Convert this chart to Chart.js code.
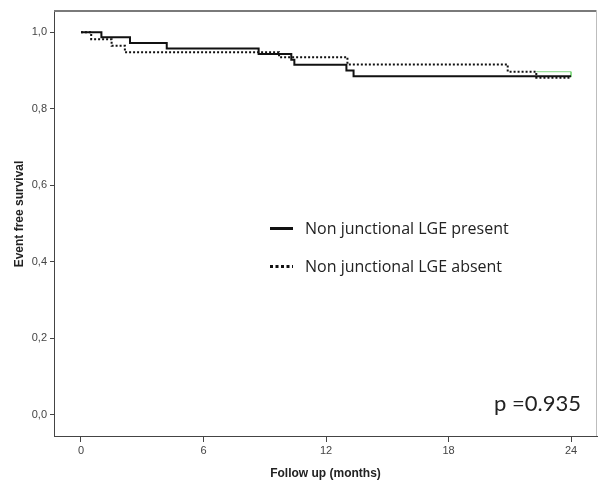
<!DOCTYPE html>
<html>
<head>
<meta charset="utf-8">
<script src="https://cdn.jsdelivr.net/npm/chart.js"></script>
<style>
  html, body { margin: 0; padding: 0; background: #fff; }
  #wrap { width: 598px; height: 484px; position: relative; }
</style>
</head>
<body>
<div id="wrap"><canvas id="km"></canvas></div>
<script>
  // Kaplan-Meier steps (months, survival)
  const presentTimes = [0, 1.0, 2.4, 4.2, 8.7, 10.3, 10.45, 13.0, 13.35, 24];
  const presentSurv = [1.0, 0.987, 0.972, 0.958, 0.943, 0.928, 0.915, 0.9, 0.885, 0.885];
  const absentTimes = [0, 0.5, 1.5, 2.15, 9.7, 13.05, 20.9, 22.3, 24];
  const absentSurv = [1.0, 0.982, 0.965, 0.948, 0.935, 0.916, 0.897, 0.881, 0.881];
  const markTimes = [22.3, 24, 24];
  const markSurv = [0.897, 0.897, 0.883];

  const xTicks = [0, 6, 12, 18, 24];
  const yTicks = [0, 0.2, 0.4, 0.6, 0.8, 1.0];
  const legendLabels = ['Non junctional LGE present', 'Non junctional LGE absent'];
  const pLabel = 'p =0.935';

  function toPoints(xs, ys) {
    return xs.map((x, i) => ({ x, y: ys[i] }));
  }

  const overlay = {
    id: 'overlay',
    afterDraw(chart) {
      const { ctx, chartArea } = chart;
      ctx.save();
      // top and right frame
      ctx.strokeStyle = '#7a7a7a';
      ctx.lineWidth = 2;
      ctx.beginPath();
      ctx.moveTo(chartArea.left, chartArea.top + 1);
      ctx.lineTo(chartArea.right, chartArea.top + 1);
      ctx.stroke();
      ctx.strokeStyle = '#bdbdbd';
      ctx.lineWidth = 1;
      ctx.beginPath();
      ctx.moveTo(chartArea.right - 0.5, chartArea.top);
      ctx.lineTo(chartArea.right - 0.5, chartArea.bottom);
      ctx.stroke();

      // axis titles
      ctx.fillStyle = '#222';
      ctx.font = 'bold 12px "Liberation Sans", Arial, sans-serif';
      ctx.textAlign = 'center';
      ctx.textBaseline = 'middle';
      ctx.fillText('Follow up (months)', (chartArea.left + chartArea.right) / 2, 474);
      ctx.save();
      ctx.translate(20, 214);
      ctx.rotate(-Math.PI / 2);
      ctx.fillText('Event free survival', 0, 0);
      ctx.restore();

      // legend
      ctx.strokeStyle = '#111';
      ctx.lineWidth = 3;
      ctx.beginPath();
      ctx.moveTo(270, 228.5);
      ctx.lineTo(293, 228.5);
      ctx.stroke();
      ctx.setLineDash([3, 2.5]);
      ctx.beginPath();
      ctx.moveTo(270, 266.5);
      ctx.lineTo(293, 266.5);
      ctx.stroke();
      ctx.setLineDash([]);
      ctx.fillStyle = '#222';
      ctx.font = '16px "Open Sans", Lato, sans-serif';
      ctx.textAlign = 'left';
      ctx.textBaseline = 'alphabetic';
      ctx.fillText(legendLabels[0], 305, 234);
      ctx.fillText(legendLabels[1], 305, 272);

      // p value
      ctx.font = '22px Lato, "Open Sans", sans-serif';
      ctx.textAlign = 'right';
      ctx.fillText(pLabel, 581, 411);
      ctx.restore();
    }
  };

  new Chart(document.getElementById('km'), {
    type: 'line',
    data: {
      datasets: [
        {
          label: legendLabels[0],
          data: toPoints(presentTimes, presentSurv),
          borderColor: '#111',
          borderWidth: 2,
          stepped: true,
          pointRadius: 0,
          fill: false,
        },
        {
          label: legendLabels[1],
          data: toPoints(absentTimes, absentSurv),
          borderColor: '#111',
          borderWidth: 2,
          borderDash: [2, 2],
          stepped: true,
          pointRadius: 0,
          fill: false,
        },
        {
          label: 'mark',
          data: toPoints(markTimes, markSurv),
          borderColor: '#7fd67f',
          borderWidth: 1,
          pointRadius: 0,
          fill: false,
        },
      ],
    },
    options: {
      responsive: true,
      maintainAspectRatio: false,
      animation: false,
      devicePixelRatio: 1,
      layout: { padding: { left: 0, right: 1, top: 10, bottom: 0 } },
      plugins: { legend: { display: false }, tooltip: { enabled: false } },
      scales: {
        x: {
          type: 'linear',
          min: -1.322,
          max: 25.273,
          afterFit: (scale) => { scale.height = 48; },
          afterBuildTicks: (scale) => { scale.ticks = xTicks.map((v) => ({ value: v })); },
          grid: { drawOnChartArea: false, drawTicks: true, tickLength: 6, color: '#444' },
          border: { display: true, color: '#444', width: 1 },
          ticks: {
            padding: 2,
            color: '#444',
            font: { family: '"Liberation Sans", Arial, sans-serif', size: 11 },
            maxRotation: 0,
            callback: (v) => String(v),
          },
        },
        y: {
          type: 'linear',
          min: -0.0549,
          max: 1.0583,
          afterFit: (scale) => { scale.width = 54; },
          afterBuildTicks: (scale) => { scale.ticks = yTicks.map((v) => ({ value: v })); },
          grid: { drawOnChartArea: false, drawTicks: true, tickLength: 4, color: '#444' },
          border: { display: true, color: '#444', width: 1 },
          ticks: {
            padding: 3,
            color: '#444',
            font: { family: '"Liberation Sans", Arial, sans-serif', size: 11 },
            callback: (v) => v.toFixed(1).replace('.', ','),
          },
        },
      },
    },
    plugins: [overlay],
  });
</script>
</body>
</html>
